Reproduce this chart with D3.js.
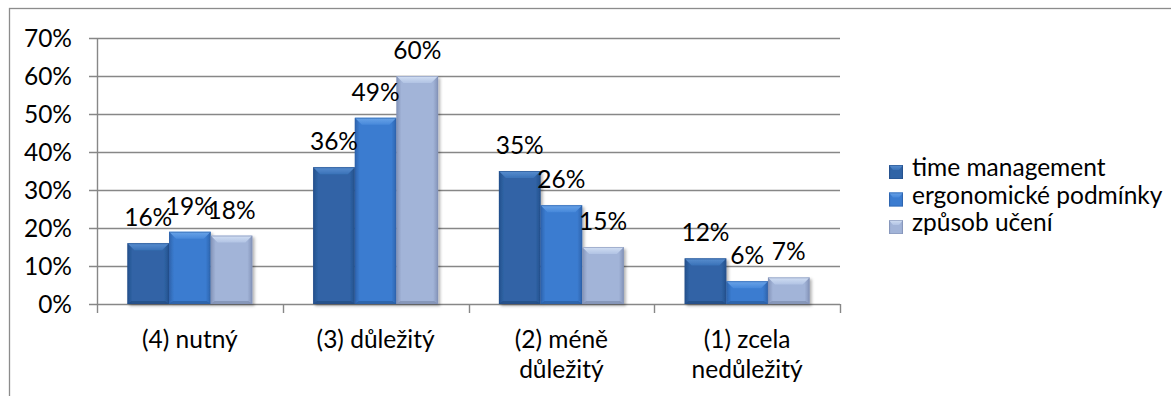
<!DOCTYPE html>
<html>
<head>
<meta charset="utf-8">
<script src="https://cdn.jsdelivr.net/npm/d3@7"></script>
<style>
  html, body { margin: 0; padding: 0; background: #fff; }
  svg { display: block; }
  text { font-family: Lato, "Open Sans", sans-serif; fill: #000; }
</style>
</head>
<body>
<svg id="chart" width="1171" height="396"></svg>
<script>
// Category labels (already split into the lines they are shown on)
const categories = ["(4) nutný", "(3) důležitý", "(2) méně důležitý", "(1) zcela nedůležitý"];
const categoryLines = [["(4) nutný"], ["(3) důležitý"], ["(2) méně", "důležitý"], ["(1) zcela", "nedůležitý"]];

// Series and their shares per category
const seriesNames = ["time management", "ergonomické podmínky", "způsob učení"];
const timeManagement = [0.16, 0.36, 0.35, 0.12];
const ergonomicke = [0.19, 0.49, 0.26, 0.06];
const zpusobUceni = [0.18, 0.60, 0.15, 0.07];
const seriesValues = [timeManagement, ergonomicke, zpusobUceni];

// Y axis ticks
const yTicks = [0, 0.1, 0.2, 0.3, 0.4, 0.5, 0.6, 0.7];

const FONT = 24.5;

// Bevel palette per series: face, light top, dark edges
const palette = [
  { face: "#3064a6", top: "#5a8fd0", topDark: "#3a72b8", edge: "#24508c", bottom: "#224a80" },
  { face: "#3b7cd0", top: "#6aa4e8", topDark: "#4788da", edge: "#2d63ac", bottom: "#2a5c9e" },
  { face: "#a2b4d8", top: "#d2dff3", topDark: "#b1c3e4", edge: "#8393b8", bottom: "#7c8cae" }
];

const svg = d3.select("#chart");
const defs = svg.append("defs");

// soft drop shadow under bars
const shadow = defs.append("filter").attr("id", "shadow")
  .attr("x", "-20%").attr("y", "-20%").attr("width", "150%").attr("height", "150%");
shadow.append("feDropShadow").attr("dx", 2).attr("dy", 2)
  .attr("stdDeviation", 1.6).attr("flood-color", "#000").attr("flood-opacity", 0.3);

palette.forEach((p, i) => {
  const g = defs.append("linearGradient").attr("id", "face" + i)
    .attr("x1", 0).attr("y1", 0).attr("x2", 1).attr("y2", 0);
  g.append("stop").attr("offset", "0%").attr("stop-color", p.edge);
  g.append("stop").attr("offset", "12%").attr("stop-color", p.face);
  g.append("stop").attr("offset", "88%").attr("stop-color", p.face);
  g.append("stop").attr("offset", "100%").attr("stop-color", p.edge);
  const t = defs.append("linearGradient").attr("id", "top" + i)
    .attr("x1", 0).attr("y1", 0).attr("x2", 0).attr("y2", 1);
  t.append("stop").attr("offset", "0%").attr("stop-color", p.top);
  t.append("stop").attr("offset", "100%").attr("stop-color", p.topDark);
});

// Outer chart frame
svg.append("rect")
  .attr("x", 9.5).attr("y", 8.5).attr("width", 1400).attr("height", 500)
  .attr("fill", "none").attr("stroke", "#8c8c8c").attr("stroke-width", 1.3);

const plot = { left: 97, right: 840, top: 38, bottom: 304 };

const y = d3.scaleLinear().domain([0, 0.7]).range([plot.bottom, plot.top]);
const x0 = d3.scaleBand().domain(categories).range([plot.left, plot.right]).padding(0);
const x1 = d3.scaleBand().domain(seriesNames).range([0, x0.bandwidth()])
  .paddingInner(0).paddingOuter(0.73);

const gridColor = "#878787";

// Gridlines
svg.append("g").selectAll("line").data(yTicks).join("line")
  .attr("x1", plot.left - 8).attr("x2", plot.right)
  .attr("y1", d => Math.round(y(d)) + 0.5).attr("y2", d => Math.round(y(d)) + 0.5)
  .attr("stroke", gridColor).attr("stroke-width", 1.4);

// Y axis line
svg.append("line")
  .attr("x1", plot.left + 0.5).attr("x2", plot.left + 0.5)
  .attr("y1", plot.top).attr("y2", plot.bottom + 1)
  .attr("stroke", gridColor).attr("stroke-width", 1.4);

// Y tick labels
svg.append("g").selectAll("text").data(yTicks).join("text")
  .attr("x", 72).attr("y", d => y(d) + 8.5)
  .attr("text-anchor", "end").attr("font-size", FONT)
  .text(d3.format(".0%"));

// X category tick marks at band boundaries
const boundaries = categories.map(c => x0(c)).concat([plot.right]);
svg.append("g").selectAll("line").data(boundaries).join("line")
  .attr("x1", d => Math.round(d) + 0.5).attr("x2", d => Math.round(d) + 0.5)
  .attr("y1", plot.bottom).attr("y2", plot.bottom + 9)
  .attr("stroke", gridColor).attr("stroke-width", 1.4);

// Category labels
const catG = svg.append("g");
categories.forEach((c, i) => {
  const cx = x0(c) + x0.bandwidth() / 2;
  const t = catG.append("text").attr("text-anchor", "middle").attr("font-size", FONT);
  categoryLines[i].forEach((line, j) => {
    t.append("tspan").attr("x", cx).attr("y", 348 + j * 30).text(line);
  });
});

// Beveled bar drawing
function drawBar(g, xa, w, ya, yb, si) {
  const p = palette[si];
  const h = yb - ya;
  const bt = Math.min(7, h / 2);
  const bs = Math.min(4, w / 4);
  const bb = Math.min(3, h / 4);
  const bar = g.append("g").attr("filter", "url(#shadow)");
  bar.append("rect").attr("x", xa).attr("y", ya).attr("width", w).attr("height", h)
    .attr("fill", `url(#face${si})`);
  // top bevel
  bar.append("path")
    .attr("d", `M${xa},${ya}L${xa + w},${ya}L${xa + w - bs - 3},${ya + bt}L${xa + bs + 3},${ya + bt}Z`)
    .attr("fill", `url(#top${si})`);
  // bottom bevel
  bar.append("path")
    .attr("d", `M${xa},${yb}L${xa + w},${yb}L${xa + w - bs},${yb - bb}L${xa + bs},${yb - bb}Z`)
    .attr("fill", p.bottom).attr("opacity", 0.7);
  // outline
  bar.append("rect").attr("x", xa + 0.5).attr("y", ya + 0.5).attr("width", w - 1).attr("height", h - 1)
    .attr("fill", "none").attr("stroke", p.edge).attr("stroke-opacity", 0.6);
}

// Bars
const barsG = svg.append("g");
seriesNames.forEach((s, si) => {
  seriesValues[si].forEach((v, ci) => {
    const xa = x0(categories[ci]) + x1(s);
    drawBar(barsG, xa, x1.bandwidth(), y(v), y(0), si);
  });
});

// Value labels
const labG = svg.append("g");
seriesNames.forEach((s, si) => {
  seriesValues[si].forEach((v, ci) => {
    labG.append("text")
      .attr("x", x0(categories[ci]) + x1(s) + x1.bandwidth() / 2)
      .attr("y", y(v) - 17)
      .attr("text-anchor", "middle").attr("font-size", FONT)
      .text(d3.format(".0%")(v));
  });
});

// Legend
const legend = svg.append("g");
seriesNames.forEach((s, i) => {
  const ly = 165 + i * 27.5;
  const p = palette[i];
  const lg = legend.append("g");
  lg.append("rect").attr("x", 889).attr("y", ly).attr("width", 14).attr("height", 14)
    .attr("fill", `url(#face${i})`);
  lg.append("path")
    .attr("d", `M889,${ly}L903,${ly}L899,${ly + 5}L893,${ly + 5}Z`)
    .attr("fill", `url(#top${i})`);
  lg.append("rect").attr("x", 889.5).attr("y", ly + 0.5).attr("width", 13).attr("height", 13)
    .attr("fill", "none").attr("stroke", p.edge).attr("stroke-opacity", 0.6);
  lg.append("text").attr("x", 912).attr("y", ly + 11)
    .attr("font-size", FONT)
    .text(s);
});
</script>
</body>
</html>
